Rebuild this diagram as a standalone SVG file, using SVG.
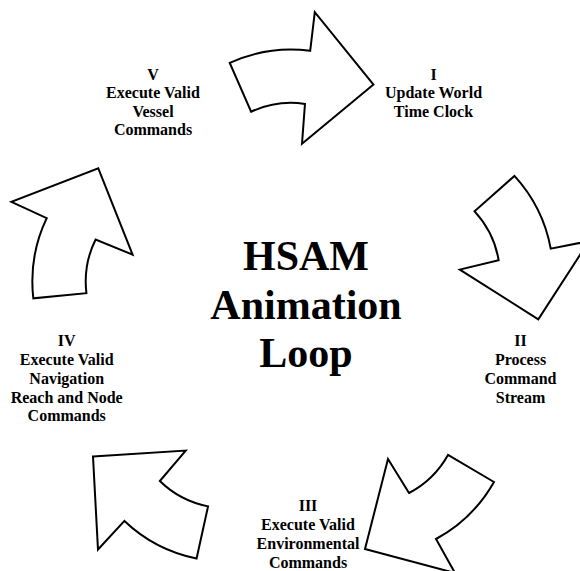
<svg xmlns="http://www.w3.org/2000/svg" xmlns:xlink="http://www.w3.org/1999/xlink" width="580" height="571" viewBox="0 0 580 571">
<style>
.arr{fill:#fff;stroke:#000;stroke-width:2;stroke-linejoin:miter}
.lbl{font-family:"Liberation Serif","Times New Roman",serif;font-weight:bold;font-size:16px;fill:#000;text-anchor:middle}
.title{font-family:"Liberation Serif","Times New Roman",serif;font-weight:bold;font-size:42px;fill:#000;text-anchor:middle}
</style>
<defs>
<path id="arrow" d="M0,0 L23,-90 L44,-56 Q69,-69 83,-94 L129,-67 Q108,-30 71,-10 L90,24 Z"/>
</defs>
<rect width="580" height="571" fill="#fff"/>
<g id="connectors">
<use xlink:href="#arrow" href="#arrow" class="arr" transform="translate(373.5,84.5) rotate(216)"/>
<use xlink:href="#arrow" href="#arrow" class="arr" transform="translate(538.3,319.3) rotate(288)"/>
<use xlink:href="#arrow" href="#arrow" class="arr" transform="translate(365,549) rotate(0)"/>
<use xlink:href="#arrow" href="#arrow" class="arr" transform="translate(93,456.5) rotate(72)"/>
<use xlink:href="#arrow" href="#arrow" class="arr" transform="translate(98.3,168.3) rotate(144)"/>
</g>
<g id="title">
<text class="title" x="306" y="270">HSAM</text>
<text class="title" x="306" y="318.5">Animation</text>
<text class="title" x="306" y="367">Loop</text>
</g>
<g id="step1">
<text class="lbl" x="433.5" y="79.5">I</text>
<text class="lbl" x="433.5" y="98">Update World</text>
<text class="lbl" x="433.5" y="116.5">Time Clock</text>
</g>
<g id="step2">
<text class="lbl" x="520.5" y="346">II</text>
<text class="lbl" x="520.5" y="365">Process</text>
<text class="lbl" x="520.5" y="384">Command</text>
<text class="lbl" x="520.5" y="402.5">Stream</text>
</g>
<g id="step3">
<text class="lbl" x="308" y="510.5">III</text>
<text class="lbl" x="308" y="529.5">Execute Valid</text>
<text class="lbl" x="308" y="548.5">Environmental</text>
<text class="lbl" x="308" y="567.5">Commands</text>
</g>
<g id="step4">
<text class="lbl" x="66.7" y="346">IV</text>
<text class="lbl" x="66.7" y="365">Execute Valid</text>
<text class="lbl" x="66.7" y="384">Navigation</text>
<text class="lbl" x="66.7" y="402.5">Reach and Node</text>
<text class="lbl" x="66.7" y="421">Commands</text>
</g>
<g id="step5">
<text class="lbl" x="153" y="79.5">V</text>
<text class="lbl" x="153" y="98">Execute Valid</text>
<text class="lbl" x="153" y="116.5">Vessel</text>
<text class="lbl" x="153" y="135">Commands</text>
</g>
</svg>
